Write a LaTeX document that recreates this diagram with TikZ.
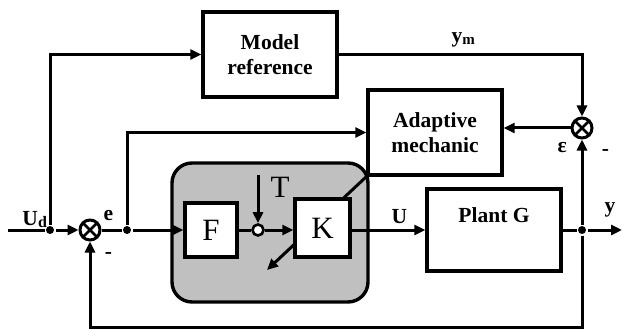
\documentclass[tikz,border=0pt]{standalone}
\usepackage{fontspec}
\setmainfont{Liberation Serif}
\usetikzlibrary{arrows.meta,calc,positioning}
\definecolor{ctrlgray}{HTML}{C0C0C0}

\begin{document}
\begin{tikzpicture}[x=1pt,y=-1pt,>={Triangle[length=11pt,width=10pt]},line width=3pt,
    block/.style={draw,line width=3.4pt,fill=white,minimum width=134pt,minimum height=85pt,align=center,font=\fontsize{21.5}{25}\selectfont\bfseries},
    smallblock/.style={draw,line width=3.4pt,fill=white,inner sep=0pt,font=\fontsize{31}{31}\selectfont},
    sumnode/.style={draw,circle,fill=white,minimum size=20pt,inner sep=0pt,
      path picture={\draw[line width=2.6pt] (path picture bounding box.north west) -- (path picture bounding box.south east)
        (path picture bounding box.north east) -- (path picture bounding box.south west);}},
    dot/.style={circle,fill,inner sep=0pt,minimum size=8pt},
    lbl/.style={inner sep=0pt,font=\fontsize{21.5}{25}\selectfont\bfseries}]
  \useasboundingbox (0,0) rectangle (622,329);
  % blocks
  \node[block] (model) at (270,54.5) {Model\\reference};
  \node[block] (adapt) at (435,132.5) {Adaptive\\mechanic};
  \node[draw,line width=3.4pt,fill=ctrlgray,rounded corners=20pt,minimum width=196pt,minimum height=139pt] (ctrl) at (270,232.5) {};
  \coordinate (tune) at (267,270);
  \draw[->] (adapt.south west) -- (tune);
  \node[smallblock,minimum width=52pt,minimum height=54pt] (F) at (211,230) {F};
  \node[smallblock,minimum width=55pt,minimum height=58pt] (K) at (322.5,228) {K};
  \node[draw,circle,fill=white,line width=2.6pt,minimum size=11pt,inner sep=0pt] (junc) at (258,230) {};
  \node[block,minimum height=82pt] (plant) at (494,230) {};
  \node[lbl,below=18.5pt of plant.north] (plantname) {Plant G};
  % sums and branch points
  \coordinate (in) at (8,230);
  \node[dot] (d1) at (50,230) {};
  \node[sumnode] (sum1) at (90,230) {};
  \node[dot] (d2) at (127,230) {};
  \node[dot] (d3) at (582,230) {};
  \node[sumnode] (sum2) at (582,128) {};
  \coordinate (tin) at (258,175);
  \coordinate (out) at (622,230);
  % signals
  \draw (in) -- (d1);
  \draw[->] (d1) -- (sum1);
  \draw (sum1) -- (d2);
  \draw[->] (d2) -- (F);
  \draw[->] (d1) |- (model);
  \draw[->] (d2) |- (adapt);
  \draw (F) -- (junc);
  \draw[->] (tin) -- (junc);
  \draw[->] (junc) -- (K.west |- junc);
  \draw[->] (K.east |- plant) -- (plant);
  \draw (plant) -- (d3);
  \draw[->] (d3) -- (out);
  \draw[->] (model) -| (sum2);
  \draw[->] (d3) -- (sum2);
  \draw[->] (sum2) -- (adapt.east |- sum2);
  \draw[->] (d3) -- ++(0,97) -| (sum1);
  % labels
  \node[lbl,anchor=base west] (udlbl) at (21,225) {U\raisebox{-2pt}{\fontsize{16}{16}\selectfont d}};
  \node[lbl,anchor=base west] (elbl) at (102,220) {e};
  \node[lbl] (minus1) at (108.5,256) {-};
  \node[anchor=base west,inner sep=0pt,font=\fontsize{31}{31}\selectfont] (tlbl) at (269,197) {T};
  \node[lbl,anchor=base west] (ulbl) at (390,223) {U};
  \node[lbl,anchor=base west] (ymlbl) at (450,43) {y\raisebox{-1.5pt}{\fontsize{15}{15}\selectfont m}};
  \node[lbl,anchor=base west] (epslbl) at (556,153) {ε};
  \node[lbl] (minus2) at (605.5,153) {-};
  \node[lbl,anchor=base west] (ylbl) at (603,212) {y};
\end{tikzpicture}
\end{document}
